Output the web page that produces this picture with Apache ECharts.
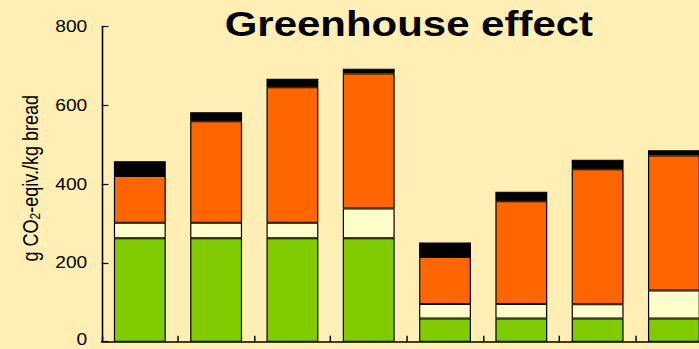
<!DOCTYPE html>
<html>
<head>
<meta charset="utf-8">
<script src="https://cdn.jsdelivr.net/npm/echarts@6/dist/echarts.min.js"></script>
<style>
  html, body { margin: 0; padding: 0; width: 699px; height: 349px; overflow: hidden; background: #FFEFB5; }
  /* the chart is laid out 583px wide and widened to the full 699px page */
  #chart { width: 583px; height: 349px; transform: scaleX(1.19897); transform-origin: 0 0; }
</style>
</head>
<body>
<div id="chart"></div>
<script>
// Eight bread products, each bar split into four stacked contributions (g CO2-eqv. per kg bread)
const categories = ['1', '2', '3', '4', '5', '6', '7', '8'];
const greenPart  = [263, 263, 263, 263, 59, 59, 59, 59];
const creamPart  = [39, 39, 39, 75, 37, 37, 36, 71];
const orangePart = [119, 258, 344, 343, 119, 261, 343, 343];
const blackPart  = [37, 23, 22, 12, 37, 24, 24, 13];
const yTicks = [0, 200, 400, 600, 800];

const FONT = 'Liberation Sans, Arial, sans-serif';

function stackSeries(name, data, color) {
  return {
    name: name,
    type: 'bar',
    stack: 'total',
    data: data,
    barWidth: '68%',
    itemStyle: { color: color, borderColor: '#000', borderWidth: 1 },
    emphasis: { disabled: true }
  };
}

const chart = echarts.init(document.getElementById('chart'), null, { renderer: 'svg' });
chart.setOption({
  animation: false,
  backgroundColor: '#FFEFB5',
  title: {
    text: 'Greenhouse effect',
    left: 336,
    top: 1,
    textAlign: 'center',
    textStyle: { fontFamily: FONT, fontSize: 35, fontWeight: 'bold', color: '#000' }
  },
  grid: { left: 84.8, right: -10.9, top: 26.7, bottom: 7.3, outerBoundsMode: 'none', containLabel: false },
  xAxis: {
    type: 'category',
    data: categories,
    boundaryGap: true,
    axisLine: { lineStyle: { color: '#000', width: 1.6 } },
    axisTick: { show: true, inside: true, length: 6, alignWithLabel: false, lineStyle: { color: '#000', width: 1.2 } },
    axisLabel: { show: false }
  },
  yAxis: {
    type: 'value',
    min: yTicks[0],
    max: yTicks[yTicks.length - 1],
    interval: 200,
    name: 'g CO{sub|2}-eqiv./kg bread',
    nameLocation: 'middle',
    nameGap: 44,
    nameTextStyle: {
      fontFamily: FONT, fontSize: 18, color: '#000', lineHeight: 20,
      padding: [0, 0, 0, 12],
      rich: { sub: { fontFamily: FONT, fontSize: 12, lineHeight: 12, verticalAlign: 'bottom', color: '#000' } }
    },
    axisLine: { show: true, lineStyle: { color: '#000', width: 1.3 } },
    axisTick: { show: true, inside: true, length: 5.6, lineStyle: { color: '#000', width: 1.2 } },
    axisLabel: {
      fontFamily: FONT, fontSize: 16, lineHeight: 12, color: '#000', margin: 12,
      // the bottom label sits on the page edge, so lift it slightly
      formatter: v => (v === 0 ? '{z|0}' : String(v)),
      rich: { z: { fontFamily: FONT, fontSize: 16, lineHeight: 12, padding: [0, 0, 5, 0], color: '#000' } }
    },
    splitLine: { show: false }
  },
  series: [
    stackSeries('green', greenPart, '#80CC00'),
    stackSeries('cream', creamPart, '#FFFFCC'),
    stackSeries('orange', orangePart, '#FF6600'),
    stackSeries('black', blackPart, '#000000')
  ]
});
</script>
</body>
</html>
